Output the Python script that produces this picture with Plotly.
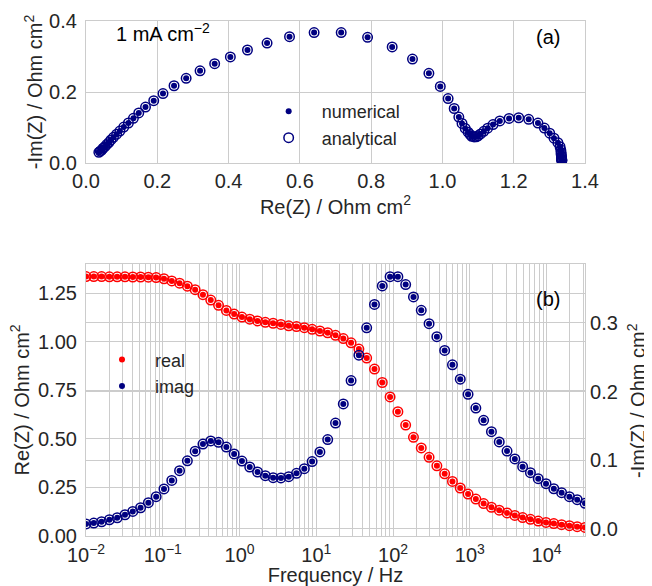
import plotly.graph_objects as go

# ---------------- data ----------------
freq_hz = [0.01, 0.01263, 0.01596, 0.02017, 0.02549, 0.0322, 0.04068, 0.0514, 0.06494, 0.08204,
           0.1037, 0.131, 0.1655, 0.2091, 0.2642, 0.3338, 0.4217, 0.5328, 0.6732, 0.8505,
           1.0746, 1.3577, 1.7154, 2.1673, 2.7384, 3.4597, 4.3712, 5.5228, 6.9778, 8.8161,
           11.139, 14.073, 17.783, 22.467, 28.386, 35.864, 45.31, 57.25, 72.33, 91.4,
           115.5, 145.9, 184.3, 232.9, 294.3, 371.8, 469.8, 593.5, 749.9, 947.5,
           1197, 1512, 1911, 2414, 3051, 3854, 4870, 6153, 7774, 9822,
           12409, 15679, 19810, 25029, 31623, 39954, 50480]

re_z = [1.335, 1.335, 1.335, 1.334, 1.334, 1.334, 1.333, 1.333, 1.332, 1.330,
        1.324, 1.313, 1.301, 1.286, 1.268, 1.242, 1.214, 1.187, 1.161, 1.142,
        1.127, 1.116, 1.107, 1.100, 1.095, 1.089, 1.082, 1.078, 1.072, 1.064,
        1.055, 1.046, 1.033, 1.016, 0.994, 0.962, 0.916, 0.859, 0.790, 0.716,
        0.640, 0.571, 0.508, 0.453, 0.405, 0.361, 0.320, 0.281, 0.247, 0.216,
        0.190, 0.167, 0.148, 0.133, 0.119, 0.106, 0.095, 0.086, 0.077, 0.070,
        0.064, 0.058, 0.053, 0.048, 0.044, 0.040, 0.036]

neg_im_z = [0.0070, 0.0083, 0.0102, 0.0131, 0.0160, 0.0204, 0.0253, 0.0306, 0.0380, 0.0467,
            0.0580, 0.0705, 0.0846, 0.0990, 0.1130, 0.1235, 0.1280, 0.1260, 0.1190, 0.1090,
            0.0987, 0.0900, 0.0827, 0.0773, 0.0744, 0.0740, 0.0759, 0.0808, 0.0875, 0.0980,
            0.1120, 0.1300, 0.1540, 0.1820, 0.2160, 0.2530, 0.2930, 0.3270, 0.3540, 0.3675,
            0.3675, 0.3560, 0.3380, 0.3185, 0.2990, 0.2800, 0.2600, 0.2390, 0.2180, 0.1960,
            0.1760, 0.1580, 0.1415, 0.1265, 0.1133, 0.1017, 0.0905, 0.0817, 0.0730, 0.0657,
            0.0583, 0.0525, 0.0467, 0.0423, 0.0370, 0.0340, 0.0310]

nyq_x_ticks = [0.0, 0.2, 0.4, 0.6, 0.8, 1.0, 1.2, 1.4]
nyq_y_ticks = [0.0, 0.2, 0.4]
bode_x_ticks = [0.01, 0.1, 1, 10, 100, 1000, 10000]
bode_x_labels = ["10<sup>\u22122</sup>", "10<sup>\u22121</sup>", "10<sup>0</sup>", "10<sup>1</sup>",
                 "10<sup>2</sup>", "10<sup>3</sup>", "10<sup>4</sup>"]
re_ticks = [0.0, 0.25, 0.5, 0.75, 1.0, 1.25]
im_ticks = [0.0, 0.1, 0.2, 0.3]

# ---------------- style ----------------
NAVY = "#000080"
RED = "#ff0000"
GRID = "#cccccc"
TXT = "#262626"
FONT = "Liberation Sans, Arial, sans-serif"
DOT = 6
RING = 9.5
RINGW = 1.5

fig = go.Figure()

# (a) Nyquist
fig.add_trace(go.Scatter(x=re_z, y=neg_im_z, mode="markers", name="numerical",
                         marker=dict(size=DOT, color=NAVY), xaxis="x", yaxis="y", legend="legend"))
fig.add_trace(go.Scatter(x=re_z, y=neg_im_z, mode="markers", name="analytical",
                         marker=dict(size=RING, color=NAVY, symbol="circle-open", line=dict(width=RINGW, color=NAVY)),
                         xaxis="x", yaxis="y", legend="legend"))

# (b) Bode
fig.add_trace(go.Scatter(x=freq_hz, y=re_z, mode="markers", name="real",
                         marker=dict(size=DOT, color=RED), xaxis="x2", yaxis="y2", legend="legend2"))
fig.add_trace(go.Scatter(x=freq_hz, y=re_z, mode="markers", showlegend=False,
                         marker=dict(size=RING, color=RED, symbol="circle-open", line=dict(width=RINGW, color=RED)),
                         xaxis="x2", yaxis="y2"))
fig.add_trace(go.Scatter(x=freq_hz, y=neg_im_z, mode="markers", name="imag",
                         marker=dict(size=DOT, color=NAVY), xaxis="x2", yaxis="y3", legend="legend2"))
fig.add_trace(go.Scatter(x=freq_hz, y=neg_im_z, mode="markers", showlegend=False,
                         marker=dict(size=RING, color=NAVY, symbol="circle-open", line=dict(width=RINGW, color=NAVY)),
                         xaxis="x2", yaxis="y3"))

axis_common = dict(showline=True, mirror=True, linecolor=GRID, linewidth=1.2,
                   gridcolor=GRID, gridwidth=1, zeroline=False, ticks="", automargin=False,
                   tickfont=dict(size=20, color=TXT), title_font=dict(size=20, color=TXT))

title_font = dict(size=20, color=TXT)

fig.update_layout(
    width=644, height=578,
    margin=dict(l=78, r=67, t=13, b=50, autoexpand=False),
    paper_bgcolor="white", plot_bgcolor="white",
    font=dict(family=FONT, color=TXT),
    xaxis=dict(domain=[0, 1], anchor="y", range=[0, 1.4], tickvals=nyq_x_ticks, tickformat=".1f",
               title=dict(text="Re(Z) / Ohm cm<sup>2</sup>", standoff=4), **axis_common),
    yaxis=dict(domain=[0.7237, 1], anchor="x", range=[0, 0.4], tickvals=nyq_y_ticks, tickformat=".1f",
               ticklabelstandoff=4, **axis_common),
    xaxis2=dict(domain=[0, 1], anchor="y2", type="log", range=[-2, 4.5],
                tickvals=bode_x_ticks, ticktext=bode_x_labels, ticklabelstandoff=1,
                minor=dict(showgrid=True, gridcolor=GRID, gridwidth=0.8, dtick="D1", ticks=""),
                title=dict(text="Frequency / Hz", standoff=12), **axis_common),
    yaxis2=dict(domain=[0, 0.5282], anchor="x2", range=[0, 1.40], tickvals=re_ticks, tickformat=".2f",
                ticklabelstandoff=4, **axis_common),
    yaxis3=dict(anchor="x2", overlaying="y2", side="right", range=[-0.0106, 0.386], tickvals=im_ticks,
                tickformat=".1f", **axis_common),
    legend=dict(x=0.34, y=0.860, xanchor="left", yanchor="top", bgcolor="rgba(0,0,0,0)",
                font=dict(size=18, color=TXT), itemwidth=56),
    legend2=dict(x=0.006, y=0.378, xanchor="left", yanchor="top", bgcolor="rgba(0,0,0,0)",
                 font=dict(size=18, color=TXT), itemwidth=56),
    annotations=[
        dict(text="1 mA cm<sup>\u22122</sup>", x=0.154, y=0.977, xref="paper", yref="paper",
             xanchor="center", yanchor="middle",
             showarrow=False, font=dict(size=20, color="black")),
        dict(text="(a)", x=0.926, y=0.969, xref="paper", yref="paper",
             xanchor="center", yanchor="middle",
             showarrow=False, font=dict(size=20, color="black")),
        dict(text="(b)", x=0.926, y=0.460, xref="paper", yref="paper",
             xanchor="center", yanchor="middle",
             showarrow=False, font=dict(size=20, color="black")),
        # y-axis titles
        dict(text="-Im(Z) / Ohm cm<sup>2</sup>", x=-0.1062, y=0.8618, xref="paper", yref="paper",
             xanchor="center", yanchor="middle", textangle=-90, showarrow=False, font=title_font),
        dict(text="Re(Z) / Ohm cm<sup>2</sup>", x=-0.1313, y=0.2641, xref="paper", yref="paper",
             xanchor="center", yanchor="middle", textangle=-90, showarrow=False, font=title_font),
        dict(text="-Im(Z) / Ohm cm<sup>2</sup>", x=1.1042, y=0.2641, xref="paper", yref="paper",
             xanchor="center", yanchor="middle", textangle=-90, showarrow=False, font=title_font),
    ],
)

fig.write_html("out.html")
